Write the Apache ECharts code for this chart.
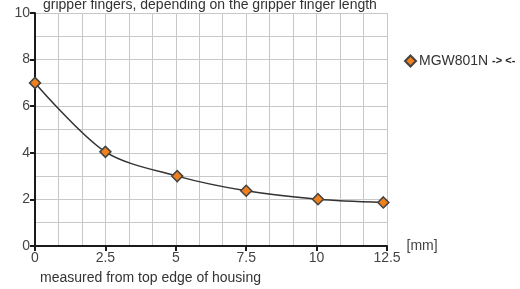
<!DOCTYPE html>
<html>
<head>
<meta charset="utf-8">
<script src="https://cdn.jsdelivr.net/npm/echarts@6/dist/echarts.min.js"></script>
<style>
  html, body { margin: 0; padding: 0; background: #fff; }
  #chart { width: 520px; height: 289px; }
</style>
</head>
<body>
<div id="chart"></div>
<script>
// finger length [mm] vs value
let xValues = [0, 2.5, 5.05, 7.5, 10.05, 12.37];
let yValues = [7.0, 4.04, 3.0, 2.37, 2.01, 1.87];
let seriesName = 'MGW801N';

let chartDom = document.getElementById('chart');
let myChart = echarts.init(chartDom);
let fontFamily = 'Liberation Sans, Arial, sans-serif';

let points = xValues.map(function (x, i) {
    return [x, yValues[i]];
});

let option = {
    animation: false,
    textStyle: { fontFamily: fontFamily },
    title: {
        text: 'gripper fingers, depending on the gripper finger length',
        left: 38,
        top: -7,
        textStyle: { fontSize: 14, fontWeight: 'normal', color: '#333', fontFamily: fontFamily }
    },
    legend: {
        left: 404,
        top: 54,
        padding: 0,
        icon: 'diamond',
        itemWidth: 11,
        itemHeight: 11,
        itemGap: 4,
        data: [seriesName],
        formatter: function (name) {
            return name + ' {b|-> <-}';
        },
        textStyle: {
            fontSize: 14,
            color: '#333',
            fontFamily: fontFamily,
            padding: [0, 0, 0, -2],
            rich: {
                b: { fontSize: 11, fontWeight: 'bold', color: '#222', fontFamily: fontFamily }
            }
        }
    },
    grid: { left: 35, right: 133, top: 13, bottom: 43 },
    xAxis: {
        type: 'value',
        min: 0,
        max: 12.5,
        interval: 2.5,
        name: '[mm]',
        nameLocation: 'end',
        nameGap: 16,
        nameTextStyle: { fontSize: 14, color: '#444' },
        axisLine: { lineStyle: { color: '#1a1a1a', width: 2 } },
        axisTick: { show: true, length: 5, lineStyle: { color: '#1a1a1a', width: 2 } },
        axisLabel: { fontSize: 14, color: '#444', margin: 5 },
        splitLine: { show: true, lineStyle: { color: '#c8c8c8', width: 1 } },
        minorTick: { show: false, splitNumber: 3 },
        minorSplitLine: { show: true, lineStyle: { color: '#c8c8c8', width: 1 } }
    },
    yAxis: {
        type: 'value',
        min: 0,
        max: 10,
        interval: 2,
        axisLine: { show: true, lineStyle: { color: '#1a1a1a', width: 2 } },
        axisTick: { show: true, length: 5, lineStyle: { color: '#1a1a1a', width: 2 } },
        axisLabel: { fontSize: 14, color: '#444', margin: 5 },
        splitLine: { show: true, lineStyle: { color: '#c8c8c8', width: 1 } },
        minorTick: { show: false, splitNumber: 2 },
        minorSplitLine: { show: true, lineStyle: { color: '#c8c8c8', width: 1 } }
    },
    graphic: [
        {
            type: 'text',
            left: 40,
            top: 271,
            style: {
                text: 'measured from top edge of housing',
                fontSize: 14,
                fill: '#333',
                fontFamily: fontFamily
            }
        }
    ],
    series: [
        {
            name: seriesName,
            type: 'line',
            data: points,
            smooth: 0.3,
            symbol: 'diamond',
            symbolSize: 11,
            lineStyle: { color: '#333', width: 1.5 },
            itemStyle: { color: '#f07f1e', borderColor: '#444', borderWidth: 1.5 }
        }
    ]
};

option && myChart.setOption(option);
</script>
</body>
</html>
